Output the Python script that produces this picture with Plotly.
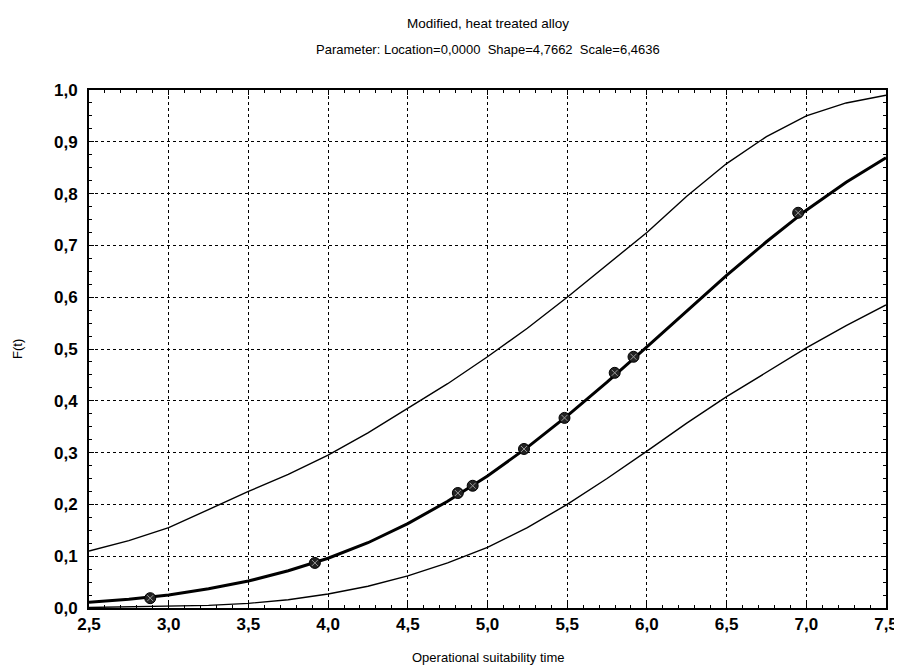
import plotly.graph_objects as go

# Grid of operational suitability time
t_grid = [2.5, 2.75, 3.0, 3.25, 3.5, 3.75, 4.0, 4.25, 4.5, 4.75, 5.0, 5.25,
          5.5, 5.75, 6.0, 6.25, 6.5, 6.75, 7.0, 7.25, 7.5]
# Fitted F(t) (thick line)
f_fit = [0.011, 0.017, 0.025, 0.037, 0.052, 0.072, 0.096, 0.126, 0.163, 0.206,
         0.255, 0.310, 0.371, 0.436, 0.504, 0.573, 0.642, 0.707, 0.768, 0.822, 0.869]
# Upper confidence bound
f_upper = [0.110, 0.130, 0.155, 0.190, 0.225, 0.258, 0.295, 0.338, 0.385, 0.433,
           0.485, 0.540, 0.600, 0.662, 0.725, 0.795, 0.858, 0.910, 0.950, 0.975, 0.990]
# Lower confidence bound
f_lower = [0.001, 0.002, 0.003, 0.005, 0.009, 0.016, 0.027, 0.042, 0.062, 0.087,
           0.117, 0.155, 0.200, 0.250, 0.303, 0.357, 0.408, 0.455, 0.502, 0.545, 0.585]
# Observed points
obs_t = [2.884, 3.917, 4.814, 4.907, 5.229, 5.483, 5.798, 5.916, 6.949]
obs_f = [0.019, 0.087, 0.222, 0.236, 0.307, 0.367, 0.454, 0.485, 0.763]

title_1 = "Modified, heat treated alloy"
title_2 = "Parameter: Location=0,0000  Shape=4,7662  Scale=6,4636"
x_title = "Operational suitability time"
y_title = "F(t)"

FONT = "Liberation Sans, Arial, sans-serif"

fig = go.Figure()
fig.add_trace(go.Scatter(x=t_grid, y=f_upper, mode="lines",
                         line=dict(color="black", width=1.4), hoverinfo="skip"))
fig.add_trace(go.Scatter(x=t_grid, y=f_lower, mode="lines",
                         line=dict(color="black", width=1.4), hoverinfo="skip"))
fig.add_trace(go.Scatter(x=t_grid, y=f_fit, mode="lines",
                         line=dict(color="black", width=3)))
fig.add_trace(go.Scatter(x=obs_t, y=obs_f, mode="markers",
                         marker=dict(symbol="circle", size=11, color="#222222",
                                     line=dict(color="black", width=1))))
fig.add_trace(go.Scatter(x=obs_t, y=obs_f, mode="markers",
                         marker=dict(symbol="x-thin", size=6,
                                     line=dict(color="#999999", width=1))))

fig.update_layout(
    width=902, height=668,
    margin=dict(l=81, r=13, t=82, b=68),
    paper_bgcolor="white", plot_bgcolor="white",
    showlegend=False,
    separators=", ",
    font=dict(family=FONT, color="black", size=13),
    annotations=[
        dict(text=title_1, xref="paper", yref="paper",
             x=0.5, y=1, yanchor="middle", yshift=67, showarrow=False,
             font=dict(size=13.5, family=FONT, color="black")),
        dict(text=title_2, xref="paper", yref="paper", x=0.5, y=1,
             yanchor="middle", yshift=41, showarrow=False,
             font=dict(size=13, family=FONT, color="black")),
        dict(text=x_title, xref="paper", yref="paper", x=0.5, y=0,
             yanchor="middle", yshift=-49, showarrow=False,
             font=dict(size=13, family=FONT, color="black")),
        dict(text=y_title, xref="paper", yref="paper", x=0, y=0.5,
             xanchor="center", xshift=-72, textangle=-90, showarrow=False,
             font=dict(size=13, family=FONT, color="black")),
    ],
)
fig.update_xaxes(
    range=[2.5, 7.5], dtick=0.5, tick0=2.5, tickformat=".1f",
    showline=True, linecolor="black", linewidth=2, mirror="allticks",
    ticks="inside", ticklen=5, tickcolor="black",
    minor=dict(dtick=0.1, ticks="inside", ticklen=3, tickcolor="black", showgrid=False),
    showgrid=True, gridcolor="black", gridwidth=1, griddash="dot",
    zeroline=False,
    tickfont=dict(size=17, family=FONT, weight="bold", color="black"),
)
fig.update_yaxes(
    range=[0, 1], dtick=0.1, tickformat=".1f",
    showline=True, linecolor="black", linewidth=2, mirror="allticks",
    ticks="inside", ticklen=5, tickcolor="black",
    minor=dict(dtick=0.025, ticks="inside", ticklen=3, tickcolor="black", showgrid=False),
    showgrid=True, gridcolor="black", gridwidth=1, griddash="dot",
    zeroline=False,
    tickfont=dict(size=17, family=FONT, weight="bold", color="black"),
    ticklabelstandoff=6,
)

fig.write_html("out.html")
